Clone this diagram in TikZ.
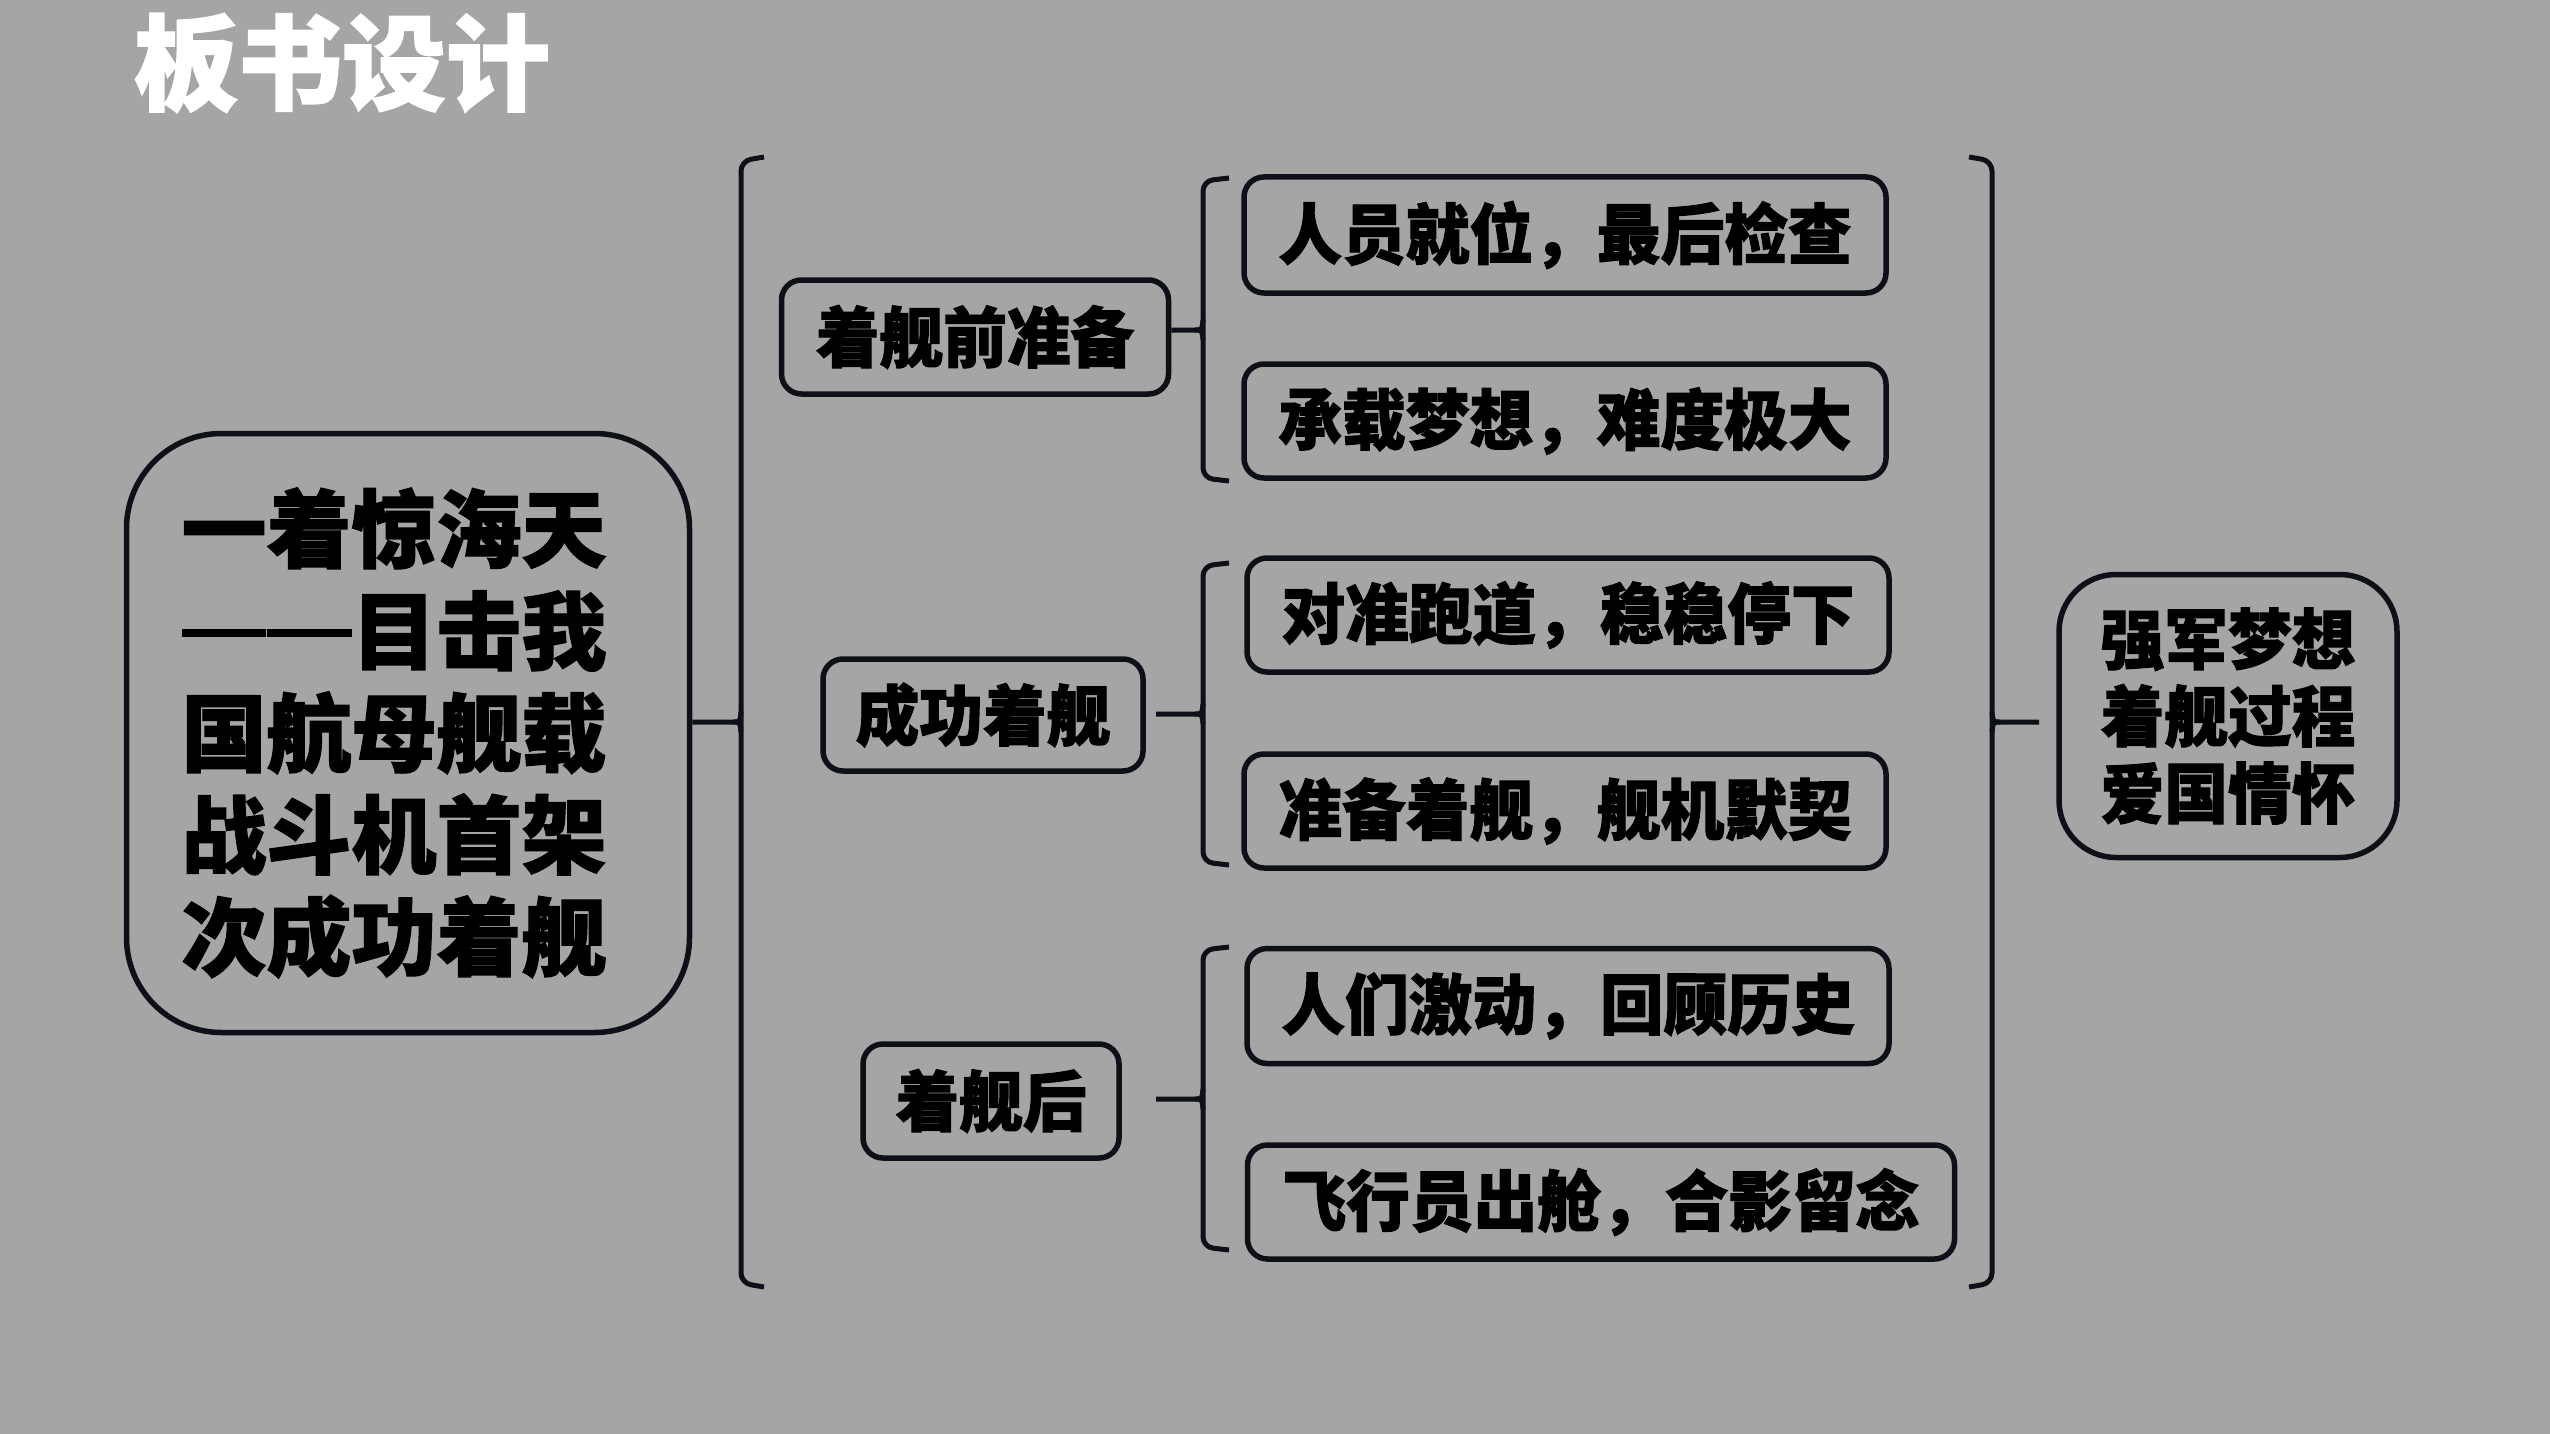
\documentclass[tikz,border=0pt]{standalone}
\usepackage{fontspec}
\newfontfamily\cjk{Noto Sans CJK SC}[BoldFeatures={FakeBold=1.5}]
\newfontfamily\cjkc{Noto Sans CJK SC}[FakeStretch=0.965, BoldFeatures={FakeBold=1.5, FakeStretch=0.965}]
\definecolor{bg}{RGB}{165,165,165}
\definecolor{linec}{RGB}{14,16,24}
\newcommand{\dashpair}{\rule[0.31em]{0.99em}{0.085em}\hspace{0.02em}\rule[0.31em]{0.99em}{0.085em}}
\begin{document}
\begin{tikzpicture}[x=1pt,y=-1pt,
  ln/.style={draw=linec, line width=5.5pt},
  brk/.style={draw=linec, line width=5pt, rounded corners=10pt},
  con/.style={draw=linec, line width=5pt},
  box/.style={ln, rounded corners=20pt, inner sep=0pt, align=center, text=black,
    font=\cjkc\bfseries\fontsize{66}{77}\selectfont},
]
\fill[bg] (0,0) rectangle (2550,1434);
\useasboundingbox (0,0) rectangle (2550,1434);

\node[text=white, inner sep=0pt, font=\cjk\bfseries\fontsize{104}{110}\selectfont] (title) at (342,63) {板书设计};

\node[box, rounded corners=95pt, minimum width=563pt, minimum height=599pt,
  text width=453pt, align=flush left, font=\cjk\bfseries\fontsize{85}{102}\selectfont]
  (main) at (408,733) {一着惊海天\\\dashpair 目击我\\国航母舰载\\战斗机首架\\次成功着舰};

\node[box, minimum width=387pt, minimum height=114pt] (m1) at (975,337) {着舰前准备};
\node[box, minimum width=320pt, minimum height=112pt] (m2) at (983,715) {成功着舰};
\node[box, minimum width=256pt, minimum height=114pt] (m3) at (991,1101) {着舰后};

\node[box, minimum width=642pt, minimum height=116pt] (l1) at (1565,235) {人员就位，最后检查};
\node[box, minimum width=642pt, minimum height=114pt] (l2) at (1565,421) {承载梦想，难度极大};
\node[box, minimum width=642pt, minimum height=114pt] (l3) at (1568,615) {对准跑道，稳稳停下};
\node[box, minimum width=642pt, minimum height=114pt] (l4) at (1565,811) {准备着舰，舰机默契};
\node[box, minimum width=642pt, minimum height=115pt] (l5) at (1568,1006) {人们激动，回顾历史};
\node[box, minimum width=707pt, minimum height=114pt] (l6) at (1601,1202) {飞行员出舱，合影留念};

\node[box, rounded corners=57pt, minimum width=338pt, minimum height=283pt] (r) at (2228,716) {强军梦想\\着舰过程\\爱国情怀};

% big left bracket
\coordinate (bl) at (741,722);
\draw[brk] (764,157) -- (741,161) -- (741,1283) -- (764,1287);
\draw[con] (main.east |- bl) -- (733,722) .. controls (740,722) .. (741,712);
\draw[con] (733,722) .. controls (740,722) .. (741,732);

% small brackets
\coordinate (b1) at (1203,330);
\coordinate (b2) at (1203,714);
\coordinate (b3) at (1203,1099);
\coordinate (s2) at (1156,714);
\coordinate (s3) at (1156,1099);
\draw[brk] (1229,178) -- (1203,181) -- (1203,478) -- (1229,481);
\draw[brk] (1229,563) -- (1203,566) -- (1203,862) -- (1229,865);
\draw[brk] (1229,947) -- (1203,950) -- (1203,1247) -- (1229,1250);
\draw[con] (m1.east |- b1) -- (1195,330) .. controls (1202,330) .. (1203,320);
\draw[con] (1195,330) .. controls (1202,330) .. (1203,340);
\draw[con] (s2) -- (1195,714) .. controls (1202,714) .. (1203,704);
\draw[con] (1195,714) .. controls (1202,714) .. (1203,724);
\draw[con] (s3) -- (1195,1099) .. controls (1202,1099) .. (1203,1089);
\draw[con] (1195,1099) .. controls (1202,1099) .. (1203,1109);

% big right bracket
\coordinate (br) at (1992,722);
\coordinate (re) at (2039,722);
\draw[brk] (1969,157) -- (1992,161) -- (1992,1283) -- (1969,1287);
\draw[con] (re) -- (2000,722) .. controls (1993,722) .. (1992,712);
\draw[con] (2000,722) .. controls (1993,722) .. (1992,732);
\end{tikzpicture}
\end{document}
